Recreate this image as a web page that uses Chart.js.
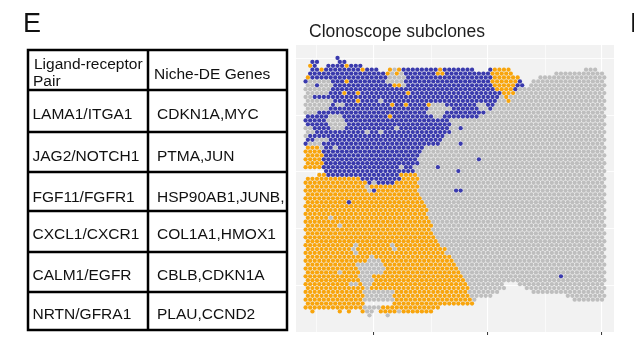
<!DOCTYPE html>
<html>
<head>
<meta charset="utf-8">
<script src="https://cdn.jsdelivr.net/npm/chart.js@4.4.1/dist/chart.umd.min.js"></script>
<style>
    html, body { margin: 0; padding: 0; background: #fff; }
    #wrap { position: relative; width: 634px; height: 351px; }
</style>
</head>
<body>
<div id="wrap"><canvas id="spots" width="634" height="351"></canvas></div>
<script>
// ==================== DATA ====================

// Table on the left
const pairHeader = ['Ligand-receptor', 'Pair'];
const geneHeader = 'Niche-DE Genes';
const pairs = ['LAMA1/ITGA1', 'JAG2/NOTCH1', 'FGF11/FGFR1', 'CXCL1/CXCR1', 'CALM1/EGFR', 'NRTN/GFRA1'];
const genes = ['CDKN1A,MYC', 'PTMA,JUN', 'HSP90AB1,JUNB,', 'COL1A1,HMOX1', 'CBLB,CDKN1A', 'PLAU,CCND2'];

// Spots of the hex grid, one run-length coded string per row (top to bottom)
// g = grey, b = blue subclone, o = orange subclone, . = no spot
const spotRows = [
    "7.1b",
    "1.2b4.2b",
    "1.1o1b2.4b1o3b",
    "1.2b1o8b1o3b2.1o1g1o8b1o7b3.1b4o16.3g",
    "1.17b1o1g1o1g7b2o10b5o9.11g",
    "1o17b4g19b6o4.15g",
    "1b5g3b1o8b4g19b6o1b2.16g",
    "2g1b3g13b2o1g19b5o2b1.17g",
    "6g36b4o1b19g",
    "5g3b1o2b1o10b1o20b3o20g",
    "2g41b1g1o21g",
    "6g5b1o4b1g25b2g1o21g",
    "6g1b2g10b1o2b1o4b1o3g7b2g2b24g",
    "5g22b5g6b2g1b25g",
    "3g24b4g9b26g",
    "5b3g10b1o9b2g8b28g",
    "5b4g23b34g",
    "5b4g23b34g",
    "2g4b3g11b1g11b2g1b31g",
    "2g11b1g2b1g15b34g",
    "1g30b35g",
    "2b3g25b36g",
    "1b3g26b4g1b31g",
    "3o1g2b1g19b40g",
    "4o22b40g",
    "4o21b41g",
    "4o21b13g1b27g",
    "4o21b41g",
    "4o17b1g2b5g1b36g",
    "4.20b9g1b32g",
    "3.2o16b4o41g",
    "12o9b4o41g",
    "14o1b1g4b5o41g",
    "13o1g11o41g",
    "14o1g1b9o8g2b31g",
    "25o41g",
    "26o40g",
    "9o1b16o40g",
    "27o39g",
    "27o39g",
    "27o39g",
    "5o1g21o39g",
    "28o38g",
    "7o1g20o38g",
    "28o38g",
    "28o38g",
    "29o37g",
    "29o37g",
    "11o1g7o1g10o36g",
    "10o1g8o1g11o35g",
    "11o1g19o35g",
    "14o1g17o34g",
    "14o3g16o33g",
    "11o6g16o33g",
    "12o6g16o32g",
    "7o1g4o5g17o32g",
    "12o3g20o21g1b9g",
    "12o3g20o31g",
    "10o2g1o2g21o8g3.19g",
    "13o1g22o8g4.18g",
    "13o7g16o7g7.16g",
    "13o6g17o5g16.9g",
    "13o7g17o1g21.7g",
    "13o6.18o",
    "13o4g13o",
    "1.1o5.1o1.1o2.1o2g1.4o1g7o",
    "14.1g3.1g"
];

// Axis grid (no tick labels in the figure)
const xGrid = [2.5, 15, 27.5, 40, 52.5, 65];
const xMajor = [15, 40, 65];
const yGrid = [0, 12.5, 25, 37.5, 50];

// ==================== SETTINGS ====================

const rowStep = 0.855;           // vertical distance between rows, in column units
const spotColors = { g: '#BEBEBE', b: '#3A3AAD', o: '#F8A50D' };
const FONT = '"Liberation Sans", Arial, sans-serif';

function decodeRow(s) {
    const out = [];
    for (const m of s.matchAll(/(\d+)([.gbo])/g)) {
        for (let i = 0; i < parseInt(m[1]); i++) out.push(m[2]);
    }
    return out;
}

const spots = { g: [], b: [], o: [] };
spotRows.forEach((row, r) => {
    decodeRow(row).forEach((kind, c) => {
        if (kind === '.') return;
        spots[kind].push({ x: c + (r % 2 ? 0.5 : 0), y: r * rowStep });
    });
});

// ==================== PLUGINS ====================

const panelBackground = {
    id: 'panelBackground',
    beforeDraw(chart) {
        const { ctx, chartArea: a } = chart;
        ctx.save();
        ctx.fillStyle = '#F2F2F2';
        ctx.fillRect(a.left, a.top, a.right - a.left, a.bottom - a.top);
        ctx.restore();
    }
};

const figureText = {
    id: 'figureText',
    afterDraw(chart) {
        const ctx = chart.ctx;
        ctx.save();
        ctx.fillStyle = '#111';
        ctx.textBaseline = 'alphabetic';

        // panel letters
        ctx.font = '27px ' + FONT;
        ctx.fillText('E', 23, 31.5);
        ctx.fillText('F', 630, 31.5);

        // plot title
        ctx.fillStyle = '#1e1e1e';
        ctx.font = '17.5px ' + FONT;
        ctx.fillText('Clonoscope subclones', 309, 37.3);

        // table grid
        const cols = [28, 148, 287];
        const rows = [50, 90, 132, 172, 211, 252, 292, 330];
        ctx.strokeStyle = '#000';
        ctx.lineWidth = 2.5;
        ctx.beginPath();
        rows.forEach(y => { ctx.moveTo(cols[0] - 1.25, y); ctx.lineTo(cols[2] + 1.25, y); });
        cols.forEach(x => { ctx.moveTo(x, rows[0] - 1.25); ctx.lineTo(x, rows[rows.length - 1] + 1.25); });
        ctx.stroke();

        // table text
        ctx.fillStyle = '#111';
        ctx.font = '15.5px ' + FONT;
        ctx.fillText(pairHeader[0], 34, 68.5);
        ctx.fillText(pairHeader[1], 33, 85.5);
        ctx.fillText(geneHeader, 154, 78.5);

        const baselines = [119, 160.5, 201.5, 238.5, 280, 318.5];
        pairs.forEach((p, i) => {
            ctx.fillText(p, 32.5, baselines[i]);
            ctx.save();
            ctx.beginPath();
            ctx.rect(cols[1] + 1.25, rows[i + 1], cols[2] - cols[1] - 2.5, rows[i + 2] - rows[i + 1]);
            ctx.clip();
            ctx.fillText(genes[i], 157, baselines[i]);
            ctx.restore();
        });
        ctx.restore();
    }
};

// ==================== CHART ====================

const ctxSpots = document.getElementById('spots').getContext('2d');
new Chart(ctxSpots, {
    type: 'scatter',
    data: {
        datasets: ['g', 'b', 'o'].map(k => ({
            label: k,
            data: spots[k],
            backgroundColor: spotColors[k],
            borderWidth: 0,
            pointRadius: 2.15,
            pointHoverRadius: 2.15
        }))
    },
    options: {
        responsive: false,
        animation: false,
        events: [],
        layout: { padding: { left: 296, right: 20, top: 45, bottom: 0 } },
        plugins: {
            legend: { display: false },
            tooltip: { enabled: false },
            title: { display: false }
        },
        scales: {
            x: {
                type: 'linear',
                min: -2.105,
                max: 67.63,
                afterBuildTicks: s => { s.ticks = xGrid.map(v => ({ value: v })); },
                afterFit: s => { s.height = 19; },
                ticks: { display: false },
                border: { display: false },
                grid: {
                    color: '#ffffff',
                    lineWidth: c => xMajor.includes(c.tick.value) ? 1.1 : 0.6,
                    drawTicks: true,
                    tickLength: 3,
                    tickWidth: 1,
                    tickColor: c => xMajor.includes(c.tick.value) ? '#333333' : 'rgba(0,0,0,0)'
                }
            },
            y: {
                type: 'linear',
                reverse: true,
                min: -2.851,
                max: 60.088,
                afterBuildTicks: s => { s.ticks = yGrid.map(v => ({ value: v })); },
                afterFit: s => { s.width = 0; },
                ticks: { display: false },
                border: { display: false },
                grid: { color: '#ffffff', lineWidth: 0.8, drawTicks: false }
            }
        }
    },
    plugins: [panelBackground, figureText]
});
</script>
</body>
</html>
